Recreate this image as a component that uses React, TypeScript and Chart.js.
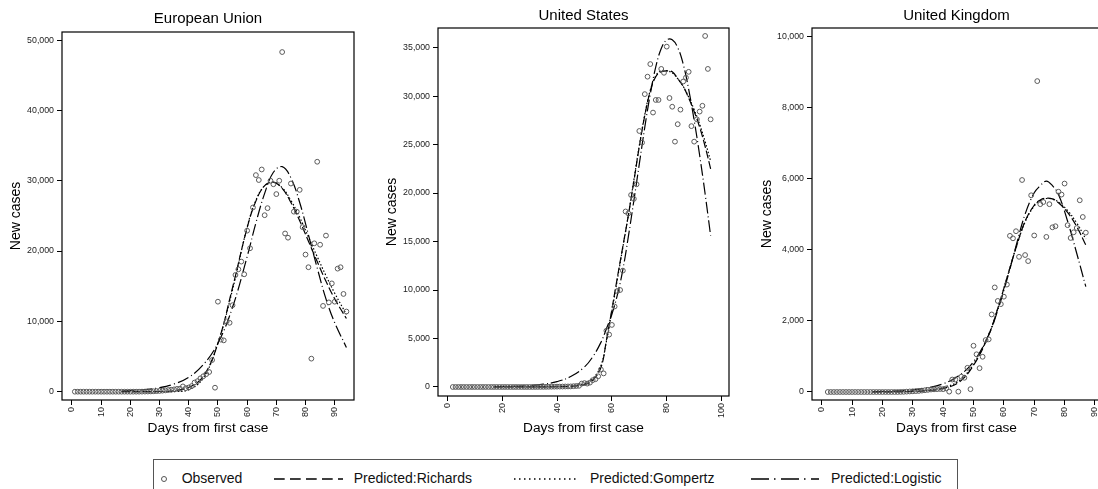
import React, { useEffect, useRef } from "react";
import { Chart, registerables } from "chart.js";
Chart.register(...registerables);

const FONT = "'Liberation Sans', Arial, sans-serif";

// ---------- European Union ----------
const euStartDay = 1;
const euObserved = [
  0, 0, 0, 0, 0, 0, 0, 0, 0, 0, 0, 0, 0, 0, 0, 0, 0, 0, 0, 0,
  2, 3, 5, 10, 15, 25, 40, 60, 80, 110, 150, 190, 240, 280, 330, 400, 430,
  750, 500, 600, 800, 1300, 1500, 1900, 2200, 2500, 2800, 4500, 570, 12800,
  7400, 7300, 10000, 9800, 12300, 16600, 17400, 18500, 16700, 22900,
  20400, 26200, 30800, 30100, 31600, 25100, 26100, 30000, 29500, 28100,
  30000, 48300, 22500, 21900, 29600, 25600, 25600, 28700, 23400, 19500,
  17700, 4700, 21100, 32700, 20900, 12200, 22200, 12700, 15400, 12800,
  17500, 17700, 13900, 11400,
];
const euCurveDays = [17, 20, 25, 30, 35, 40, 45, 50, 55, 60, 63, 66, 69, 72, 75, 78, 81, 84, 87, 90, 94];
const euRichards = [0, 0, 5, 30, 150, 600, 2200, 6900, 14800, 23300, 27100, 29300, 29800, 28900, 26900, 24300, 21400, 18500, 15700, 13200, 10400];
const euGompertz = [0, 0, 0, 2, 20, 280, 1950, 6900, 14500, 23400, 27200, 29300, 29800, 29000, 27200, 24800, 22000, 19200, 16500, 14000, 11000];
const euLogistic = [110, 160, 300, 570, 1100, 2050, 3850, 6900, 12000, 19200, 24000, 28200, 31200, 32000, 30400, 26900, 22300, 17600, 13200, 9800, 6300];
const euXTicks = [0, 10, 20, 30, 40, 50, 60, 70, 80, 90];
const euYTicks = [0, 10000, 20000, 30000, 40000, 50000];

// ---------- United States ----------
const usStartDay = 2;
const usObserved = [
  0, 0, 0, 0, 0, 0, 0, 0, 0, 0, 0, 0, 0, 0, 0, 0, 0, 0, 0, 0, 0, 0, 0, 0, 0, 0, 0, 0, 0,
  2, 3, 5, 8, 10, 15, 20, 25, 30, 35,
  40, 45, 50, 55, 60, 80, 100, 120, 350, 400, 350, 450, 700, 800, 1100, 1800, 1400,
  5800, 5400, 6400, 8300, 9900, 10000, 12000, 18100, 17900, 19800, 19400, 20900,
  26400, 25200, 30200, 32000, 33300, 28300, 29600, 29600, 32800, 32400, 35100,
  29800, 28900, 25300, 27100, 28600, 31500, 31900, 32500, 26900, 25300,
  27600, 28400, 29000, 36200, 32800, 27600,
];
const usCurveDays = [17, 25, 30, 35, 40, 45, 50, 53, 56, 58, 60, 62, 64, 66, 68, 70, 72, 74, 76, 78, 80, 82, 84, 86, 88, 90, 92, 94, 96];
const usRichards = [0, 2, 5, 10, 25, 70, 250, 700, 2000, 4800, 8000, 11300, 14500, 17700, 21200, 24800, 28000, 30500, 32000, 32500, 32600, 32500, 31800, 31000, 29800, 28400, 26800, 24800, 22500];
const usGompertz = [0, 3, 8, 18, 40, 110, 350, 850, 2200, 4700, 7800, 11100, 14400, 17700, 21300, 24900, 28100, 30600, 32100, 32600, 32600, 32400, 31800, 31000, 29900, 28600, 27100, 25300, 23300];
const usLogistic = [26, 75, 146, 285, 550, 1075, 2060, 3100, 4600, 6000, 7500, 9500, 12100, 15500, 19200, 23000, 26800, 30200, 33000, 34900, 35800, 35800, 35000, 33300, 30700, 27500, 23900, 19900, 15600];
const usXTicks = [0, 20, 40, 60, 80, 100];
const usYTicks = [0, 5000, 10000, 15000, 20000, 25000, 30000, 35000];

// ---------- United Kingdom ----------
const ukStartDay = 2;
const ukObserved = [
  0, 0, 0, 0, 0, 0, 0, 0, 0, 0, 0, 0, 0, 0, 0, 0, 0, 0, 0, 0, 0, 0, 0, 0,
  3, 5, 10, 15, 20, 25, 30, 40, 50, 60, 70, 75, 80, 85, 80, 100, 10, 350, 350, 10,
  430, 400, 680, 80, 1300, 1060, 670, 990, 1460, 1480, 2180, 2940, 2560, 2470,
  2680, 3020, 4390, 4320, 4520, 3800, 5960, 3850, 3680, 5530, 4400, 8740,
  5280, 5340, 4360, 5280, 4630, 4660, 5630, 5550, 5860, 4690, 4330, 4490,
  4610, 5390, 4920, 4480,
];
const ukCurveDays = [17, 25, 30, 35, 40, 45, 50, 55, 58, 61, 64, 67, 70, 72, 74, 76, 78, 81, 84, 87];
const ukRichards = [0, 5, 15, 40, 100, 260, 750, 1600, 2350, 3200, 4050, 4800, 5250, 5400, 5450, 5430, 5320, 5050, 4650, 4130];
const ukGompertz = [2, 10, 25, 55, 130, 300, 780, 1620, 2350, 3200, 4050, 4780, 5230, 5380, 5440, 5420, 5340, 5100, 4750, 4300];
const ukLogistic = [10, 31, 61, 120, 232, 447, 850, 1600, 2300, 3150, 4100, 5000, 5600, 5800, 5930, 5800, 5550, 4800, 3900, 2960];
const ukXTicks = [0, 10, 20, 30, 40, 50, 60, 70, 80, 90];
const ukYTicks = [0, 2000, 4000, 6000, 8000, 10000];

type Panel = {
  title: string;
  start: number;
  observed: number[];
  curveDays: number[];
  richards: number[];
  gompertz: number[];
  logistic: number[];
  xTicks: number[];
  yTicks: number[];
  xMin: number; xMax: number; yMin: number; yMax: number;
  left: number; canvasW: number; clipW: number;
  yAxisW: number; padRight: number;
  titleTop: number; titleBottom: number;
  xAxisH: number; yTitlePad: number;
};

const H = 440;

const panels: Panel[] = [
  {
    title: "European Union", start: euStartDay, observed: euObserved,
    curveDays: euCurveDays, richards: euRichards, gompertz: euGompertz, logistic: euLogistic,
    xTicks: euXTicks, yTicks: euYTicks,
    xMin: -3.4, xMax: 96.6, yMin: -1180, yMax: 51150,
    left: 0, canvasW: 370, clipW: 370, yAxisW: 62, padRight: 16,
    titleTop: 10, titleBottom: 4, xAxisH: 40, yTitlePad: 8,
  },
  {
    title: "United States", start: usStartDay, observed: usObserved,
    curveDays: usCurveDays, richards: usRichards, gompertz: usGompertz, logistic: usLogistic,
    xTicks: usXTicks, yTicks: usYTicks,
    xMin: -3.4, xMax: 102.7, yMin: -930, yMax: 37020,
    left: 375, canvasW: 365, clipW: 365, yAxisW: 63, padRight: 11,
    titleTop: 6.5, titleBottom: 3.5, xAxisH: 44, yTitlePad: 9,
  },
  {
    title: "United Kingdom", start: ukStartDay, observed: ukObserved,
    curveDays: ukCurveDays, richards: ukRichards, gompertz: ukGompertz, logistic: ukLogistic,
    xTicks: ukXTicks, yTicks: ukYTicks,
    xMin: -3.2, xMax: 92, yMin: -225, yMax: 10233,
    left: 745, canvasW: 365, clipW: 353, yAxisW: 67, padRight: 9,
    titleTop: 6.5, titleBottom: 3.5, xAxisH: 40, yTitlePad: 14,
  },
];

const framePlugin = {
  id: "frame",
  afterDatasetsDraw(chart: any) {
    const { ctx, chartArea: a } = chart;
    ctx.save();
    ctx.strokeStyle = "#000";
    ctx.lineWidth = 1.2;
    ctx.setLineDash([]);
    ctx.strokeRect(a.left, a.top, a.right - a.left, a.bottom - a.top);
    ctx.restore();
  },
};

function fmt(v: number) {
  return Number(v).toLocaleString("en-US");
}

function makeChart(canvas: HTMLCanvasElement, p: Panel) {
  const obs = p.observed.map((v, i) => ({ x: p.start + i, y: v }));
  const curve = (arr: number[]) => p.curveDays.map((d, i) => ({ x: d, y: arr[i] }));
  const lineBase = {
    showLine: true,
    pointRadius: 0,
    pointHoverRadius: 0,
    borderColor: "#000",
    backgroundColor: "#000",
    borderWidth: 1.2,
    tension: 0.4,
    fill: false,
  };
  return new Chart(canvas, {
    type: "scatter",
    data: {
      datasets: [
        {
          label: "Observed",
          data: obs,
          pointRadius: 2.4,
          pointBorderWidth: 1,
          pointBorderColor: "#5a5a5a",
          pointBackgroundColor: "rgba(255,255,255,0)",
          showLine: false,
        } as any,
        { ...lineBase, label: "Predicted:Richards", data: curve(p.richards), borderDash: [8, 3] },
        { ...lineBase, label: "Predicted:Gompertz", data: curve(p.gompertz), borderDash: [1.5, 2] },
        { ...lineBase, label: "Predicted:Logistic", data: curve(p.logistic), borderDash: [12, 3, 1, 3] },
      ],
    },
    options: {
      animation: false,
      responsive: false,
      maintainAspectRatio: false,
      events: [],
      layout: { padding: { left: 0, right: p.padRight, top: 0, bottom: 0 } },
      plugins: {
        legend: { display: false },
        tooltip: { enabled: false },
        title: {
          display: true,
          text: p.title,
          fullSize: false,
          color: "#000",
          font: { family: FONT, size: 15, weight: "normal", lineHeight: 1.2 },
          padding: { top: p.titleTop, bottom: p.titleBottom },
        },
      },
      scales: {
        x: {
          type: "linear",
          min: p.xMin,
          max: p.xMax,
          afterBuildTicks: (s: any) => {
            s.ticks = p.xTicks.map((v) => ({ value: v }));
          },
          afterFit: (s: any) => {
            s.height = p.xAxisH;
            s.paddingLeft = 0;
            s.paddingRight = 0;
          },
          ticks: {
            autoSkip: false,
            minRotation: 90,
            maxRotation: 90,
            padding: 2,
            color: "#222",
            font: { family: FONT, size: 9 },
            callback: (v: any) => String(v),
          },
          grid: { drawOnChartArea: false, drawTicks: true, tickLength: 5, color: "#000", lineWidth: 1 },
          border: { display: false },
          title: {
            display: true,
            text: "Days from first case",
            color: "#000",
            font: { family: FONT, size: 13.7, lineHeight: 1.2 },
            padding: { top: 0, bottom: 3.8 },
          },
        },
        y: {
          type: "linear",
          min: p.yMin,
          max: p.yMax,
          afterBuildTicks: (s: any) => {
            s.ticks = p.yTicks.map((v) => ({ value: v }));
          },
          afterFit: (s: any) => {
            s.width = p.yAxisW;
            s.paddingTop = 0;
            s.paddingBottom = 0;
          },
          ticks: {
            autoSkip: false,
            padding: 3,
            color: "#222",
            font: { family: FONT, size: 8.8 },
            callback: (v: any) => fmt(v),
          },
          grid: { drawOnChartArea: false, drawTicks: true, tickLength: 5, color: "#000", lineWidth: 1 },
          border: { display: false },
          title: {
            display: true,
            text: "New cases",
            color: "#000",
            font: { family: FONT, size: 14, lineHeight: 1.2 },
            padding: { top: p.yTitlePad, bottom: 0 },
          },
        },
      },
    } as any,
    plugins: [framePlugin],
  });
}

function PanelChart({ p }: { p: Panel }) {
  const ref = useRef<HTMLCanvasElement | null>(null);
  useEffect(() => {
    if (!ref.current) return;
    const c = makeChart(ref.current, p);
    return () => c.destroy();
  }, [p]);
  return (
    <div style={{ position: "absolute", left: p.left, top: 0, width: p.clipW, height: H, overflow: "hidden" }}>
      <canvas ref={ref} width={p.canvasW} height={H} style={{ width: p.canvasW, height: H, display: "block" }} />
    </div>
  );
}

function LineSample({ dash, width }: { dash: string; width: number }) {
  return (
    <svg width={width} height={6} style={{ position: "absolute", top: 16, left: 0, overflow: "visible" }}>
      <line x1={0} y1={3} x2={width} y2={3} stroke="#000" strokeWidth={1.3} strokeDasharray={dash} />
    </svg>
  );
}

const legendItems = [
  { label: "Observed", sampleLeft: 9.7 - 4, sampleW: 8, textLeft: 27.7, kind: "point", dash: "" },
  { label: "Predicted:Richards", sampleLeft: 120, sampleW: 69, textLeft: 199.7, kind: "line", dash: "10.7 5.3" },
  { label: "Predicted:Gompertz", sampleLeft: 360, sampleW: 62, textLeft: 436, kind: "line", dash: "1.5 3.5" },
  { label: "Predicted:Logistic", sampleLeft: 597, sampleW: 68, textLeft: 677, kind: "line", dash: "18 5 1.5 5.5" },
];

function Legend() {
  return (
    <div
      style={{
        position: "absolute",
        left: 153,
        top: 459,
        width: 805,
        height: 40,
        border: "1px solid #555",
        boxSizing: "border-box",
        fontFamily: FONT,
        fontSize: 14,
        color: "#111",
      }}
    >
      {legendItems.map((it) => (
        <React.Fragment key={it.label}>
          <div style={{ position: "absolute", left: it.sampleLeft, top: 0, width: it.sampleW, height: 30 }}>
            {it.kind === "point" ? (
              <svg width={8} height={8} style={{ position: "absolute", top: 15, left: 0 }}>
                <circle cx={4} cy={4} r={2.5} fill="none" stroke="#555" strokeWidth={1} />
              </svg>
            ) : (
              <LineSample dash={it.dash} width={it.sampleW} />
            )}
          </div>
          <div style={{ position: "absolute", left: it.textLeft, top: 10, lineHeight: "17px", whiteSpace: "nowrap" }}>
            {it.label}
          </div>
        </React.Fragment>
      ))}
    </div>
  );
}

export default function App() {
  return (
    <div
      style={{
        position: "absolute",
        left: 0,
        top: 0,
        width: 1098,
        height: 489,
        overflow: "hidden",
        background: "#fff",
      }}
    >
      {panels.map((p) => (
        <PanelChart key={p.title} p={p} />
      ))}
      <Legend />
    </div>
  );
}
